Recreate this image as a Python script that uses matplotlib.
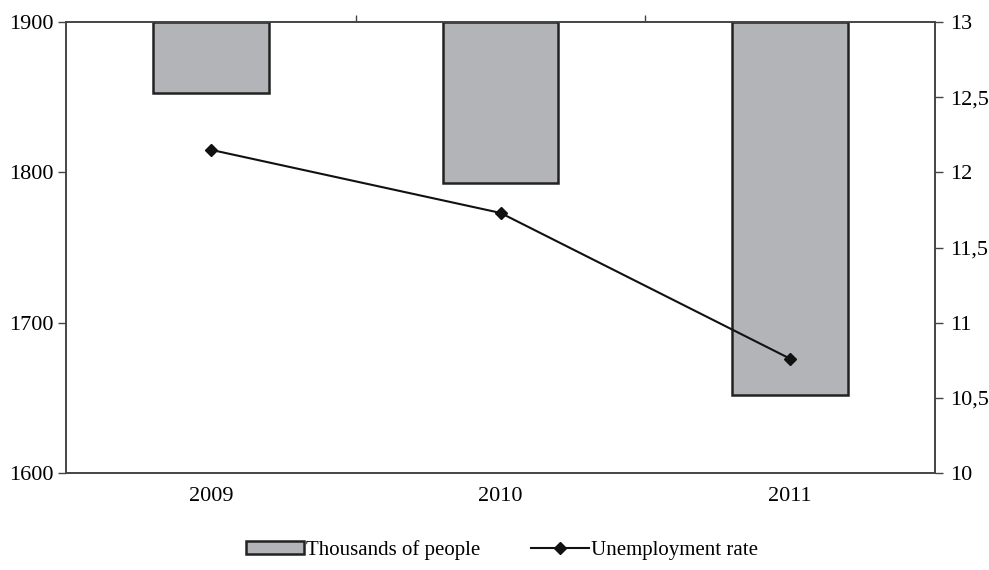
import matplotlib
matplotlib.use("Agg")
import matplotlib.pyplot as plt
from matplotlib.ticker import FuncFormatter

years = ["2009", "2010", "2011"]
thousands = [1853, 1793, 1652]
unemployment = [12.15, 11.73, 10.76]
left_ticks = [1600, 1700, 1800, 1900]
right_ticks = [10, 10.5, 11, 11.5, 12, 12.5, 13]

plt.rcParams['font.family'] = ['Liberation Serif', 'DejaVu Serif']
FS = 16

fig = plt.figure(figsize=(9.89, 5.70), dpi=100)
ax = fig.add_axes([66/989, (570-473)/570, (935-66)/989, (473-22)/570])
x = list(range(len(years)))
base = 1900
ax.bar(x, [v - base for v in thousands], bottom=base, width=0.4,
       color='#b3b4b8', edgecolor='#222222', linewidth=1.8, label='Thousands of people', zorder=2)
ax.set_ylim(1600, 1900)
ax.set_xlim(-0.5, 2.5)
ax.set_yticks(left_ticks)
ax.set_xticks(x)
ax.set_xticklabels(years)
ax.tick_params(axis='x', length=0, pad=10, labelsize=FS)
ax.tick_params(axis='y', direction='out', length=6, width=1, color='#444444', labelsize=FS, pad=3)
for s in ax.spines.values():
    s.set_color('#444444')
    s.set_linewidth(1.2)

sec = ax.secondary_xaxis('top')
sec.set_xticks([0.5, 1.5])
sec.set_xticklabels([])
sec.tick_params(direction='out', length=5, width=1, color='#444444')
sec.spines['top'].set_visible(False)

ax2 = ax.twinx()
ax2.plot(x, unemployment, color='#111111', linewidth=1.5, marker='D', markersize=6,
         label='Unemployment rate', zorder=3)
ax2.set_ylim(10, 13)
ax2.set_yticks(right_ticks)
ax2.yaxis.set_major_formatter(FuncFormatter(lambda v, p: (('%g' % v).replace('.', ','))))
ax2.tick_params(axis='y', direction='out', length=6, width=1, color='#444444', labelsize=FS, pad=5)
for s in ax2.spines.values():
    s.set_color('#444444')
    s.set_linewidth(1.2)

h1, l1 = ax.get_legend_handles_labels()
h2, l2 = ax2.get_legend_handles_labels()
fig.legend(h1 + h2, l1 + l2, loc='center', bbox_to_anchor=(502/989, 1 - 550/570), ncol=2,
           frameon=False, fontsize=15, handlelength=2.8, handleheight=0.6,
           columnspacing=2.4, handletextpad=0.1)

fig.savefig("out.png", dpi=100)
